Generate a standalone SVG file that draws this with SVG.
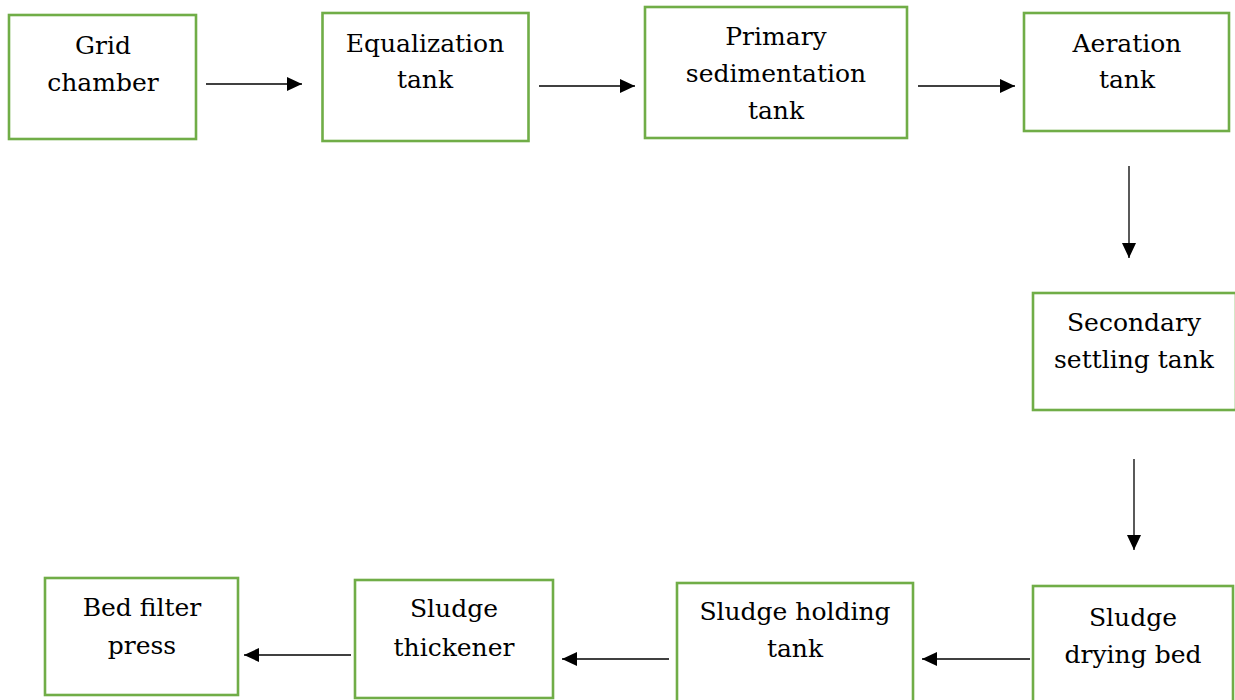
<svg xmlns="http://www.w3.org/2000/svg" width="1235" height="700" viewBox="0 0 1235 700">
<defs>
<marker id="ah" markerWidth="15" markerHeight="14" refX="15" refY="7" orient="auto" markerUnits="userSpaceOnUse">
<path d="M0,0 L15,7 L0,14 Z" fill="#000"/>
</marker>
<style>
.box{fill:#fff;stroke:#70AD47;stroke-width:2.6}
.t{font-family:"DejaVu Serif","Liberation Serif",serif;font-size:25px;fill:#000;text-anchor:middle}
.c{stroke:#000;stroke-width:1.3;fill:none;marker-end:url(#ah)}
</style>
</defs>
<rect width="1235" height="700" fill="#fff"/>
<g id="n1"><rect class="box" x="9" y="15" width="187" height="124"/><text class="t" x="103" y="54">Grid</text><text class="t" x="103" y="91">chamber</text></g>
<g id="n2"><rect class="box" x="322.5" y="13" width="206" height="128"/><text class="t" x="425" y="52">Equalization</text><text class="t" x="425" y="88">tank</text></g>
<g id="n3"><rect class="box" x="645" y="7" width="262" height="131"/><text class="t" x="776" y="45">Primary</text><text class="t" x="776" y="82">sedimentation</text><text class="t" x="776" y="119">tank</text></g>
<g id="n4"><rect class="box" x="1024" y="13" width="205" height="118"/><text class="t" x="1127" y="52">Aeration</text><text class="t" x="1127" y="88">tank</text></g>
<g id="n5"><rect class="box" x="1033" y="293" width="203" height="117"/><text class="t" x="1134" y="331">Secondary</text><text class="t" x="1134" y="368">settling tank</text></g>
<g id="n6"><rect class="box" x="1033" y="586" width="200" height="116"/><text class="t" x="1133" y="626">Sludge</text><text class="t" x="1133" y="663">drying bed</text></g>
<g id="n7"><rect class="box" x="677" y="583" width="236" height="119"/><text class="t" x="795" y="620">Sludge holding</text><text class="t" x="795" y="657">tank</text></g>
<g id="n8"><rect class="box" x="355" y="580" width="198" height="118"/><text class="t" x="454" y="617">Sludge</text><text class="t" x="454" y="656">thickener</text></g>
<g id="n9"><rect class="box" x="45" y="578" width="193" height="117"/><text class="t" x="142" y="616">Bed filter</text><text class="t" x="142" y="654">press</text></g>
<g id="connectors">
<line class="c" x1="206" y1="84" x2="302" y2="84"/>
<line class="c" x1="539" y1="86" x2="635" y2="86"/>
<line class="c" x1="918" y1="86" x2="1015" y2="86"/>
<line class="c" x1="1129" y1="166" x2="1129" y2="258"/>
<line class="c" x1="1134" y1="459" x2="1134" y2="550"/>
<line class="c" x1="1030" y1="659" x2="922" y2="659"/>
<line class="c" x1="669" y1="659" x2="562" y2="659"/>
<line class="c" x1="351" y1="655" x2="244" y2="655"/>
</g>
</svg>
